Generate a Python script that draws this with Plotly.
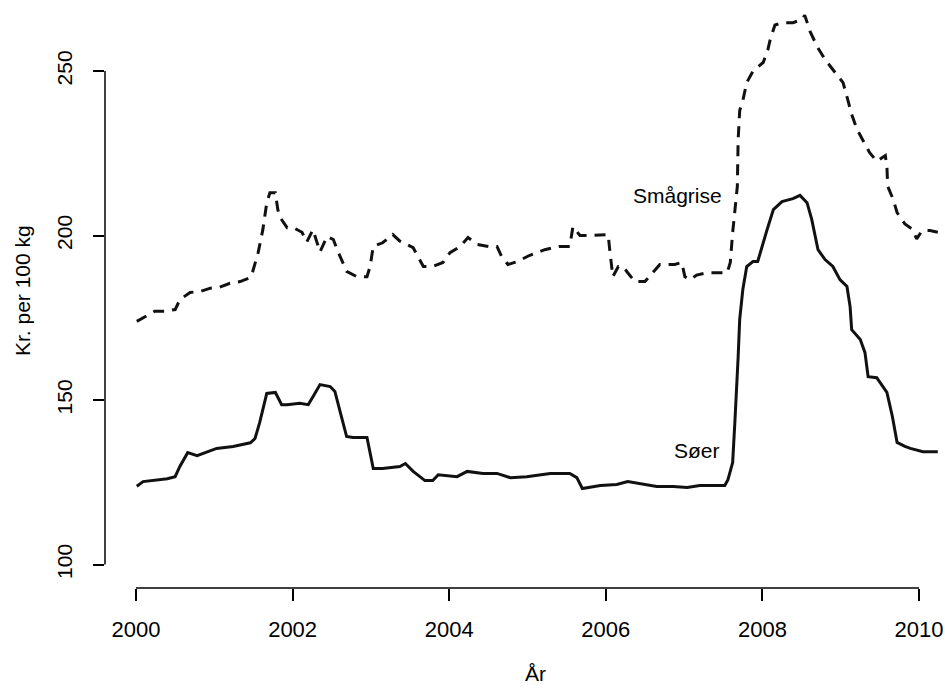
import plotly.graph_objects as go

# ---- data ----
smagrise_year = [2000.01, 2000.24, 2000.37, 2000.50, 2000.56, 2000.69, 2000.82, 2000.95, 2001.07,
                 2001.20, 2001.33, 2001.46, 2001.49, 2001.56, 2001.62, 2001.67, 2001.71, 2001.78,
                 2001.81, 2001.84, 2001.93, 2002.01, 2002.12, 2002.18, 2002.26, 2002.35, 2002.44,
                 2002.52, 2002.58, 2002.69, 2002.82, 2002.95, 2002.99, 2003.03, 2003.15, 2003.28,
                 2003.37, 2003.54, 2003.67, 2003.79, 2003.92, 2004.01, 2004.14, 2004.24, 2004.36,
                 2004.50, 2004.61, 2004.67, 2004.75, 2004.87, 2005.03, 2005.22, 2005.41, 2005.54,
                 2005.58, 2005.67, 2005.77, 2005.93, 2006.03, 2006.05, 2006.08, 2006.09, 2006.16,
                 2006.22, 2006.28, 2006.37, 2006.50, 2006.63, 2006.69, 2006.82, 2006.88, 2006.97,
                 2007.01, 2007.08, 2007.16, 2007.29, 2007.42, 2007.55, 2007.59, 2007.62, 2007.68,
                 2007.69, 2007.71, 2007.75, 2007.80, 2007.88, 2008.01, 2008.07, 2008.10, 2008.16,
                 2008.26, 2008.39, 2008.51, 2008.54, 2008.61, 2008.70, 2008.80, 2008.90, 2009.03,
                 2009.09, 2009.14, 2009.21, 2009.28, 2009.37, 2009.46, 2009.57, 2009.59, 2009.60,
                 2009.67, 2009.72, 2009.82, 2009.91, 2009.97, 2010.04, 2010.14, 2010.24]
smagrise_val = [173.9, 177.0, 177.0, 177.5, 180.5, 182.7, 183.0, 184.0, 184.3,
                185.5, 186.0, 187.2, 189.0, 194.8, 201.8, 210.0, 213.0, 213.0,
                208.0, 205.5, 202.4, 202.4, 201.0, 198.0, 201.8, 195.0, 199.7,
                198.8, 195.1, 189.1, 187.5, 187.5, 190.6, 196.7, 197.8, 200.3,
                198.3, 196.3, 190.6, 190.6, 191.8, 194.8, 196.7, 199.4, 197.3,
                196.7, 196.7, 193.6, 191.2, 192.1, 194.0, 195.7, 196.7, 196.7,
                202.7, 200.0, 200.0, 200.3, 200.3, 195.7, 190.6, 187.5, 190.6,
                190.6, 188.7, 186.0, 186.0, 189.7, 191.2, 191.2, 191.2, 191.8,
                187.5, 186.6, 188.0, 188.7, 188.7, 188.7, 191.8, 200.9, 215.0,
                229.0, 238.0, 241.0, 246.5, 250.0, 252.6, 256.5, 259.6, 264.0,
                264.7, 264.7, 265.7, 267.0, 262.0, 257.4, 253.5, 250.5, 246.5,
                241.3, 236.8, 232.2, 229.2, 225.2, 222.6, 224.3, 221.0, 215.0,
                211.0, 207.0, 203.5, 202.0, 199.0, 201.5, 201.5, 201.0]

soer_year = [2000.01, 2000.09, 2000.40, 2000.50, 2000.56, 2000.66, 2000.78, 2000.91, 2001.03,
             2001.24, 2001.46, 2001.52, 2001.58, 2001.67, 2001.78, 2001.86, 2001.93, 2002.09,
             2002.20, 2002.26, 2002.35, 2002.48, 2002.54, 2002.61, 2002.69, 2002.77, 2002.95,
             2003.03, 2003.15, 2003.37, 2003.44, 2003.54, 2003.69, 2003.79, 2003.86, 2004.10,
             2004.23, 2004.43, 2004.61, 2004.78, 2004.99, 2005.29, 2005.54, 2005.63, 2005.70,
             2005.93, 2006.14, 2006.28, 2006.44, 2006.65, 2006.86, 2007.04, 2007.20, 2007.42,
             2007.52, 2007.56, 2007.62, 2007.65, 2007.68, 2007.69, 2007.71, 2007.75, 2007.80,
             2007.88, 2007.94, 2007.99, 2008.06, 2008.14, 2008.25, 2008.39, 2008.48, 2008.57,
             2008.63, 2008.71, 2008.80, 2008.90, 2008.99, 2009.08, 2009.12, 2009.14, 2009.25,
             2009.31, 2009.35, 2009.46, 2009.59, 2009.66, 2009.72, 2009.82, 2009.89, 2010.05,
             2010.24]
soer_val = [123.8, 125.2, 126.1, 126.7, 129.8, 134.0, 133.1, 134.3, 135.3,
            135.9, 137.0, 138.3, 143.2, 152.0, 152.3, 148.6, 148.6, 149.0,
            148.6, 151.0, 154.7, 154.1, 152.6, 146.2, 138.9, 138.6, 138.6,
            129.2, 129.2, 129.8, 130.7, 128.3, 125.5, 125.5, 127.3, 126.7,
            128.3, 127.7, 127.7, 126.4, 126.7, 127.7, 127.7, 126.4, 123.1,
            124.0, 124.3, 125.2, 124.6, 123.7, 123.7, 123.4, 124.0, 124.0,
            124.0, 125.8, 131.0, 144.0, 157.1, 163.0, 174.5, 183.6, 190.6,
            192.1, 192.1, 196.4, 201.8, 207.9, 210.3, 211.2, 212.2, 210.0,
            204.9, 195.7, 192.7, 190.6, 186.6, 184.5, 178.4, 171.4, 168.4,
            164.4, 157.1, 156.8, 152.3, 145.0, 137.1, 135.9, 135.3, 134.3,
            134.3]

x_ticks = [2000, 2002, 2004, 2006, 2008, 2010]
y_ticks = [100, 150, 200, 250]
series_labels = ["Smågrise", "Søer"]
x_title = "År"
y_title = "Kr. per 100 kg"

FONT = "Liberation Sans, Arial, sans-serif"

fig = go.Figure()
fig.add_trace(go.Scatter(x=smagrise_year, y=smagrise_val, mode="lines",
                         line=dict(color="#111111", width=3, dash="11px,8px"),
                         name=series_labels[0], hoverinfo="skip"))
fig.add_trace(go.Scatter(x=soer_year, y=soer_val, mode="lines",
                         line=dict(color="#111111", width=3),
                         name=series_labels[1], hoverinfo="skip"))

# R-style axis lines spanning only the tick range
fig.add_shape(type="line", xref="x", yref="paper", x0=x_ticks[0], x1=x_ticks[-1], y0=0, y1=0,
              line=dict(color="black", width=1.5))
fig.add_shape(type="line", xref="paper", yref="y", x0=0, x1=0, y0=y_ticks[0], y1=y_ticks[-1],
              line=dict(color="black", width=1.5))

fig.add_annotation(x=2006.92, y=212.3, xref="x", yref="y", text=series_labels[0],
                   showarrow=False, font=dict(family=FONT, size=21, color="black"))
fig.add_annotation(x=2007.16, y=134.8, xref="x", yref="y", text=series_labels[1],
                   showarrow=False, font=dict(family=FONT, size=21, color="black"))
fig.add_annotation(x=0.513, y=0, xref="paper", yref="paper", yshift=-85, text=x_title,
                   showarrow=False, yanchor="middle", font=dict(family=FONT, size=21, color="black"))
fig.add_annotation(x=0, y=0.505, xref="paper", yref="paper", xshift=-83, text=y_title,
                   textangle=-90, showarrow=False, xanchor="center", yanchor="middle",
                   font=dict(family=FONT, size=21, color="black"))

fig.update_layout(
    width=945, height=691,
    margin=dict(l=105, r=0, t=0, b=103),
    paper_bgcolor="white", plot_bgcolor="white",
    showlegend=False,
    font=dict(family=FONT, size=21, color="black"),
    xaxis=dict(range=[1999.604, 2010.332], tickvals=x_ticks, ticktext=[str(v) for v in x_ticks],
               ticks="outside", ticklen=12, tickwidth=1.5, tickcolor="black",
               showgrid=False, zeroline=False, showline=False, ticklabelstandoff=10,
               tickfont=dict(family=FONT, size=22, color="black")),
    yaxis=dict(range=[92.86, 271.6], tickvals=y_ticks, ticktext=[str(v) for v in y_ticks],
               ticks="outside", ticklen=11, tickwidth=1.5, tickcolor="black", tickangle=-90,
               showgrid=False, zeroline=False, showline=False, ticklabelstandoff=13,
               tickfont=dict(family=FONT, size=21, color="black")),
)

fig.write_html("out.html", config={"displayModeBar": False},
               post_script="document.body.style.margin='0px';document.body.style.overflow='hidden';")
